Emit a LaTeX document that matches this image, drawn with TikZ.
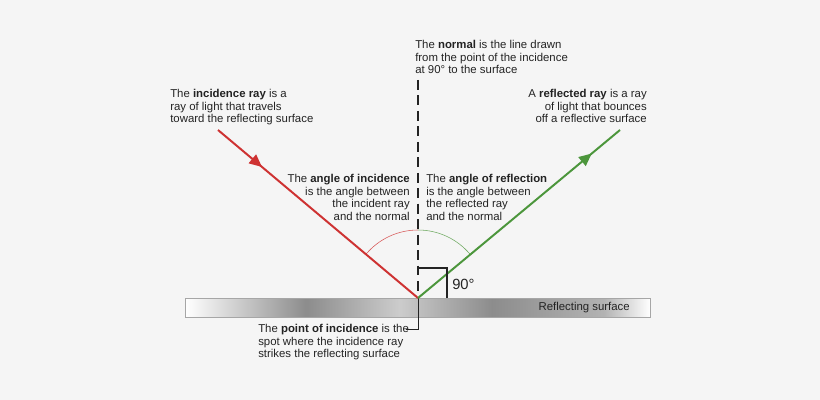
\documentclass[tikz,border=0pt]{standalone}
\usepackage{fontspec}
\setmainfont{Liberation Sans}
\usetikzlibrary{arrows.meta, decorations.markings}
\definecolor{RayRed}{RGB}{206,50,50}
\definecolor{RayGreen}{RGB}{76,150,60}
\definecolor{BgGrey}{RGB}{245,245,245}
\definecolor{InkGrey}{RGB}{35,35,35}
\pgfdeclarehorizontalshading{surfshade}{100bp}{color(0bp)=(white); color(25bp)=(white); color(38bp)=(black!45); color(48bp)=(black!20); color(58bp)=(black!45); color(70bp)=(black!30); color(75bp)=(white); color(83bp)=(black!15); color(90bp)=(black!30); color(100bp)=(white)}

\begin{document}
\begin{tikzpicture}[
    x=0.025cm, y=-0.025cm,
    note/.style = {font=\fontsize{8.1}{8.9}\selectfont, text=InkGrey, inner sep=0pt},
    ray/.style = {line width=1.4pt},
    tip/.style = {postaction={decorate}, decoration={markings, mark=at position #1 with {\arrow{Triangle[length=9pt, width=8pt]}}}}
]
% Background and bounds
\fill[BgGrey] (0,0) rectangle (820,400);
% Reflecting surface
\node[draw=black!35, shading=surfshade, minimum width=465*0.025cm, minimum height=19*0.025cm, inner sep=0pt, anchor=north west] (surf) at (185,298) {};
\node[note, anchor=east] (surflbl) at (630,308) {Reflecting surface};
% Point of incidence and ray ends
\coordinate (poi) at (418,298);
\coordinate (top) at (418,80);
\coordinate (inc) at (218,130);
\coordinate (refl) at (620,130);
\coordinate (lead) at (418,329);
% Angle arcs
\draw[RayRed!80] (poi) ++(220:68) arc (220:270:68);
\draw[RayGreen!80] (poi) ++(270:68) arc (270:320:68);
% Normal
\draw[InkGrey, line width=1.4pt, dash pattern=on 7pt off 4pt] (top) -- (poi);
\draw[InkGrey, line width=0.6pt] (poi) -- (lead) -- ++(-12,0);
% Rays
\draw[ray, RayRed, tip=0.22] (inc) -- (poi);
\draw[ray, RayGreen, tip=0.86] (poi) -- (refl);
% Right angle
\draw[InkGrey, line width=1.4pt] (418,268) -- (447,268) -- (447,298);
\node[note, font=\fontsize{10.5}{12}\selectfont, anchor=west] (deg) at (452,284) {90°};
% Labels
\node[note, align=left, anchor=north west] (normtxt) at (415,40) {The \textbf{normal} is the line drawn\\from the point of the incidence\\at 90° to the surface};
\node[note, align=left, anchor=north west] (inctxt) at (170,89) {The \textbf{incidence ray} is a\\ray of light that travels\\toward the reflecting surface};
\node[note, align=right, anchor=north east] (ainc) at (410,174) {The \textbf{angle of incidence}\\is the angle between\\the incident ray\\and the normal};
\node[note, align=left, anchor=north west] (arefl) at (426,174) {The \textbf{angle of reflection}\\is the angle between\\the reflected ray\\and the normal};
\node[note, align=right, anchor=north east] (refltxt) at (647,89) {A \textbf{reflected ray} is a ray\\of light that bounces\\off a reflective surface};
\node[note, align=left, anchor=north west] (poitxt) at (258,324) {The \textbf{point of incidence} is the\\spot where the incidence ray\\strikes the reflecting surface};
\end{tikzpicture}
\end{document}
